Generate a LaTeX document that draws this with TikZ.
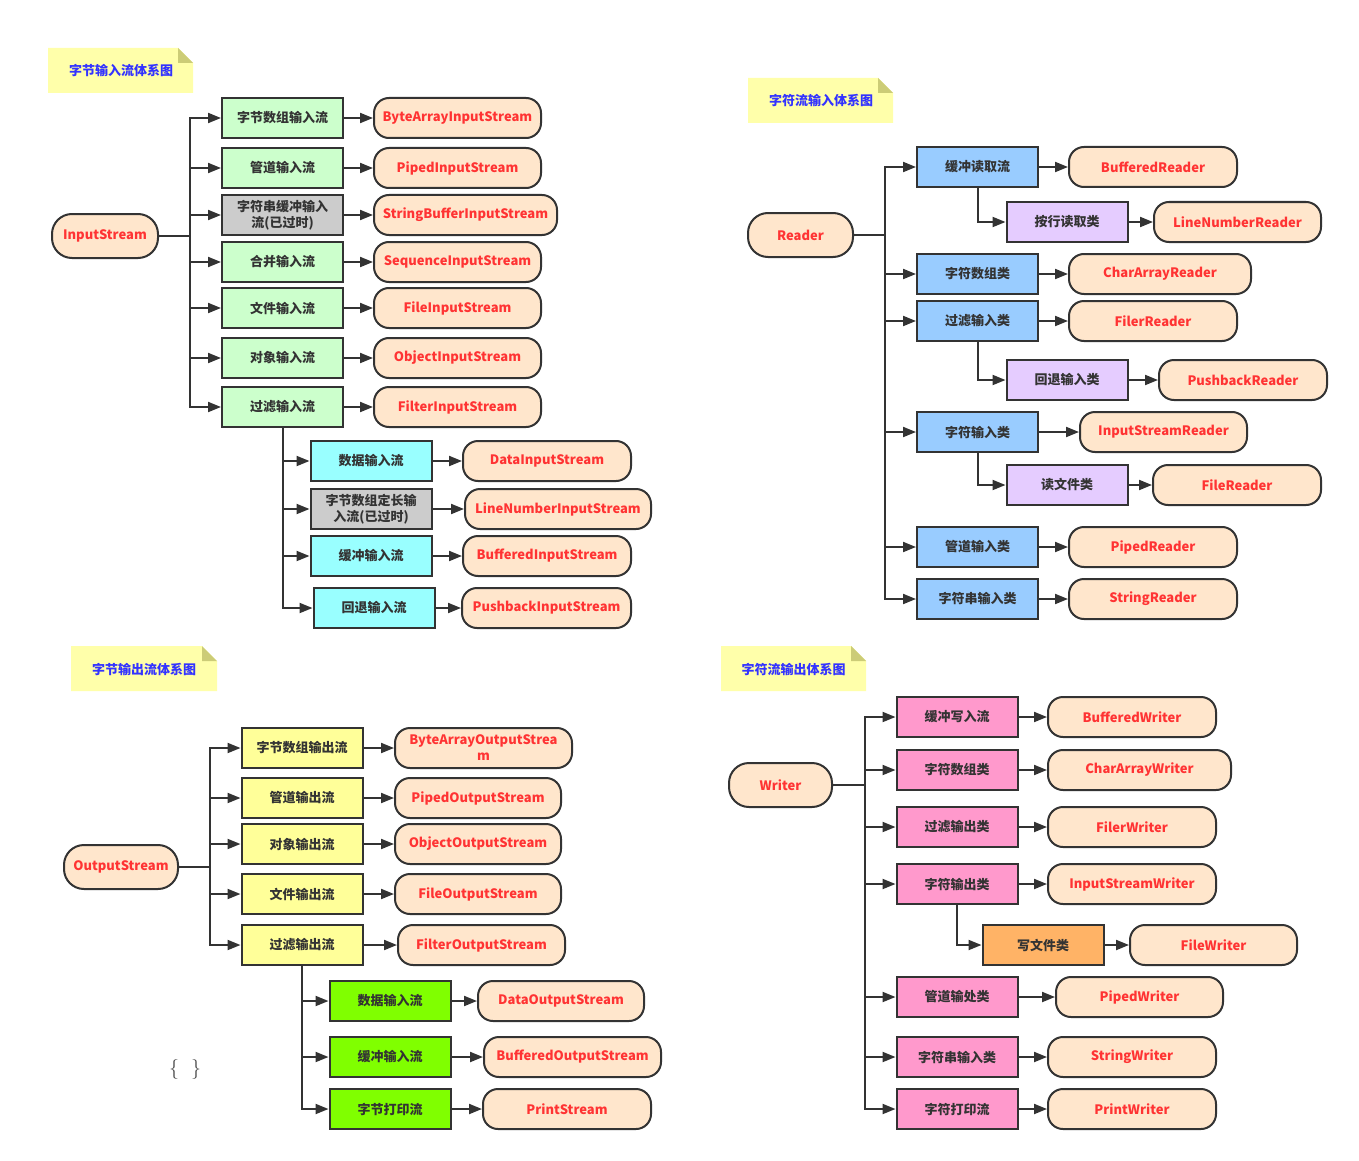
\documentclass[tikz,border=0pt]{standalone}
\usepackage{fontspec}
\newfontfamily\cjk{Noto Sans CJK SC}
\usetikzlibrary{arrows.meta}
\definecolor{linec}{HTML}{333333}
\definecolor{textc}{HTML}{333333}
\definecolor{redt}{HTML}{FF3333}
\definecolor{orangef}{HTML}{FFE6CC}
\definecolor{greenf}{HTML}{CCFFCC}
\definecolor{grayf}{HTML}{CCCCCC}
\definecolor{cyanf}{HTML}{99FFFF}
\definecolor{bluef}{HTML}{99CCFF}
\definecolor{purplef}{HTML}{E5CCFF}
\definecolor{yellowf}{HTML}{FFFF99}
\definecolor{limef}{HTML}{80FF00}
\definecolor{pinkf}{HTML}{FF99CC}
\definecolor{amberf}{HTML}{FFB366}
\definecolor{notef}{HTML}{FFFFAA}
\definecolor{notefold}{HTML}{CCCC77}
\definecolor{notet}{HTML}{3333FF}
\tikzset{
  base/.style={draw=linec, line width=2pt, minimum height=40pt, inner sep=1pt,
    font=\cjk\bfseries\fontsize{13}{16}\selectfont, text=textc, align=center},
  sq/.style={base, minimum width=121pt},
  gbox/.style={sq, fill=greenf},
  graybox/.style={sq, fill=grayf},
  cbox/.style={sq, fill=cyanf},
  bbox/.style={sq, fill=bluef},
  pbox/.style={sq, fill=purplef},
  ybox/.style={sq, fill=yellowf},
  lbox/.style={sq, fill=limef},
  kbox/.style={sq, fill=pinkf},
  abox/.style={sq, fill=amberf},
  rbox/.style={base, rounded corners=15pt, fill=orangef, text=redt, minimum width=#1},
  rbox/.default=167pt,
  root/.style={base, rounded corners=20pt, fill=orangef, text=redt, minimum height=44pt, minimum width=#1},
  notetext/.style={font=\cjk\bfseries\fontsize{13}{16}\selectfont, text=notet},
  arr/.style={draw=linec, line width=2pt, -{Triangle[length=13pt,width=10pt]}},
  ln/.style={draw=linec, line width=2pt},
}
\newcommand{\notebox}[5]{% x1 y1 x2 y2 name
  \fill[notef] (#1,#2) -- (#3-15,#2) -- (#3,#2+15) -- (#3,#4) -- (#1,#4) -- cycle;
  \fill[notefold] (#3-15,#2) -- (#3,#2+15) -- (#3-15,#2+15) -- cycle;
}
\begin{document}
\begin{tikzpicture}[x=1pt,y=-1pt]
\useasboundingbox (0,0) rectangle (1359,1161);
\fill[white] (0,0) rectangle (1359,1161);

% ================= Section 1 =================
\notebox{48}{48}{193}{93}{}
\node[notetext] (n1) at (121,71) {字节输入流体系图};
\node[root=106pt] (IS) at (105,236) {InputStream};
\coordinate (t1) at (190,236);
\node[gbox] (a1) at (282.5,118) {字节数组输入流};
\node[gbox] (a2) at (282.5,168) {管道输入流};
\node[graybox] (a3) at (282.5,215) {字符串缓冲输入\\流(已过时)};
\node[gbox] (a4) at (282.5,262) {合并输入流};
\node[gbox] (a5) at (282.5,308) {文件输入流};
\node[gbox] (a6) at (282.5,358) {对象输入流};
\node[gbox] (a7) at (282.5,407) {过滤输入流};
\node[rbox] (b1) at (457.5,118) {ByteArrayInputStream};
\node[rbox] (b2) at (457.5,168) {PipedInputStream};
\node[rbox=183pt] (b3) at (465.5,215) {StringBufferInputStream};
\node[rbox] (b4) at (457.5,262) {SequenceInputStream};
\node[rbox] (b5) at (457.5,308) {FileInputStream};
\node[rbox] (b6) at (457.5,358) {ObjectInputStream};
\node[rbox] (b7) at (457.5,407) {FilterInputStream};
\node[cbox] (c1) at (371,461) {数据输入流};
\node[graybox] (c2) at (371,509) {字节数组定长输\\入流(已过时)};
\node[cbox] (c3) at (371,556) {缓冲输入流};
\node[cbox] (c4) at (374,608) {回退输入流};
\node[rbox=168pt] (d1) at (547,461) {DataInputStream};
\node[rbox=186pt] (d2) at (558,509) {LineNumberInputStream};
\node[rbox=168pt] (d3) at (547,556) {BufferedInputStream};
\node[rbox=169pt] (d4) at (546.5,608) {PushbackInputStream};
\draw[ln] (IS.east) -- (t1);
\foreach \i in {1,...,7} {
  \draw[arr] (t1) |- (a\i.west);
  \draw[arr] (a\i.east) -- (b\i.west);
}
\foreach \i in {1,...,4} {
  \draw[arr] (a7.south) |- (c\i.west);
  \draw[arr] (c\i.east) -- (d\i.west);
}

% ================= Section 2 =================
\notebox{748}{78}{893}{123}{}
\node[notetext] (n2) at (821,101) {字符流输入体系图};
\node[root=105pt] (RD) at (800.5,235) {Reader};
\coordinate (t2) at (885,235);
\node[bbox] (e1) at (977.5,167) {缓冲读取流};
\node[bbox] (e2) at (977.5,274) {字符数组类};
\node[bbox] (e3) at (977.5,321) {过滤输入类};
\node[bbox] (e4) at (977.5,432) {字符输入类};
\node[bbox] (e5) at (977.5,547) {管道输入类};
\node[bbox] (e6) at (977.5,599) {字符串输入类};
\node[rbox=168pt] (f1) at (1153,167) {BufferedReader};
\node[rbox=182pt] (f2) at (1160,274) {CharArrayReader};
\node[rbox=168pt] (f3) at (1153,321) {FilerReader};
\node[rbox=167pt] (f4) at (1163.5,432) {InputStreamReader};
\node[rbox=168pt] (f5) at (1153,547) {PipedReader};
\node[rbox=168pt] (f6) at (1153,599) {StringReader};
\node[pbox] (g1) at (1067,222) {按行读取类};
\node[pbox] (g3) at (1067,380) {回退输入类};
\node[pbox] (g4) at (1067,485) {读文件类};
\node[rbox=167pt] (h1) at (1237.5,222) {LineNumberReader};
\node[rbox=168pt] (h3) at (1243,380) {PushbackReader};
\node[rbox=168pt] (h4) at (1237,485) {FileReader};
\draw[ln] (RD.east) -- (t2);
\foreach \i in {1,...,6} {
  \draw[arr] (t2) |- (e\i.west);
  \draw[arr] (e\i.east) -- (f\i.west);
}
\foreach \i in {1,3,4} {
  \draw[arr] (e\i.south) |- (g\i.west);
  \draw[arr] (g\i.east) -- (h\i.west);
}

% ================= Section 3 =================
\notebox{71}{646}{217}{691}{}
\node[notetext] (n3) at (144,669) {字节输出流体系图};
\node[root=114pt] (OS) at (121,867) {OutputStream};
\coordinate (t3) at (210,867);
\node[ybox] (i1) at (302,748) {字节数组输出流};
\node[ybox] (i2) at (302,798) {管道输出流};
\node[ybox] (i3) at (302,844) {对象输出流};
\node[ybox] (i4) at (302,894) {文件输出流};
\node[ybox] (i5) at (302,945) {过滤输出流};
\node[rbox=177pt] (j1) at (483.5,748) {ByteArrayOutputStrea\\m};
\node[rbox=166pt] (j2) at (478,798) {PipedOutputStream};
\node[rbox=166pt] (j3) at (478,844) {ObjectOutputStream};
\node[rbox=166pt] (j4) at (478,894) {FileOutputStream};
\node[rbox=167pt] (j5) at (481.5,945) {FilterOutputStream};
\node[lbox] (k1) at (390,1001) {数据输入流};
\node[lbox] (k2) at (390,1057) {缓冲输入流};
\node[lbox] (k3) at (390,1109) {字节打印流};
\node[rbox=166pt] (l1) at (561,1001) {DataOutputStream};
\node[rbox=177pt] (l2) at (572.5,1057) {BufferedOutputStream};
\node[rbox=168pt] (l3) at (567,1109) {PrintStream};
\draw[ln] (OS.east) -- (t3);
\foreach \i in {1,...,5} {
  \draw[arr] (t3) |- (i\i.west);
  \draw[arr] (i\i.east) -- (j\i.west);
}
\foreach \i in {1,...,3} {
  \draw[arr] (i5.south) |- (k\i.west);
  \draw[arr] (k\i.east) -- (l\i.west);
}
\node[text=black!70, font=\fontsize{20}{24}\selectfont] (br) at (185,1069) {\{\hspace{12pt}\}};

% ================= Section 4 =================
\notebox{721}{646}{866}{691}{}
\node[notetext] (n4) at (793.5,669) {字符流输出体系图};
\node[root=103pt] (WR) at (780.5,785) {Writer};
\coordinate (t4) at (865,785);
\node[kbox] (m1) at (957,717) {缓冲写入流};
\node[kbox] (m2) at (957,770) {字符数组类};
\node[kbox] (m3) at (957,827) {过滤输出类};
\node[kbox] (m4) at (957,884) {字符输出类};
\node[kbox] (m5) at (957,997) {管道输处类};
\node[kbox] (m6) at (957,1057) {字符串输入类};
\node[kbox] (m7) at (957,1109) {字符打印流};
\node[rbox=168pt] (o1) at (1132,717) {BufferedWriter};
\node[rbox=183pt] (o2) at (1139.5,770) {CharArrayWriter};
\node[rbox=168pt] (o3) at (1132,827) {FilerWriter};
\node[rbox=168pt] (o4) at (1132,884) {InputStreamWriter};
\node[rbox=167pt] (o5) at (1139.5,997) {PipedWriter};
\node[rbox=168pt] (o6) at (1132,1057) {StringWriter};
\node[rbox=168pt] (o7) at (1132,1109) {PrintWriter};
\node[abox] (p4) at (1043,945) {写文件类};
\node[rbox=167pt] (q4) at (1213.5,945) {FileWriter};
\draw[ln] (WR.east) -- (t4);
\foreach \i in {1,...,7} {
  \draw[arr] (t4) |- (m\i.west);
  \draw[arr] (m\i.east) -- (o\i.west);
}
\draw[arr] (m4.south) |- (p4.west);
\draw[arr] (p4.east) -- (q4.west);
\end{tikzpicture}
\end{document}
